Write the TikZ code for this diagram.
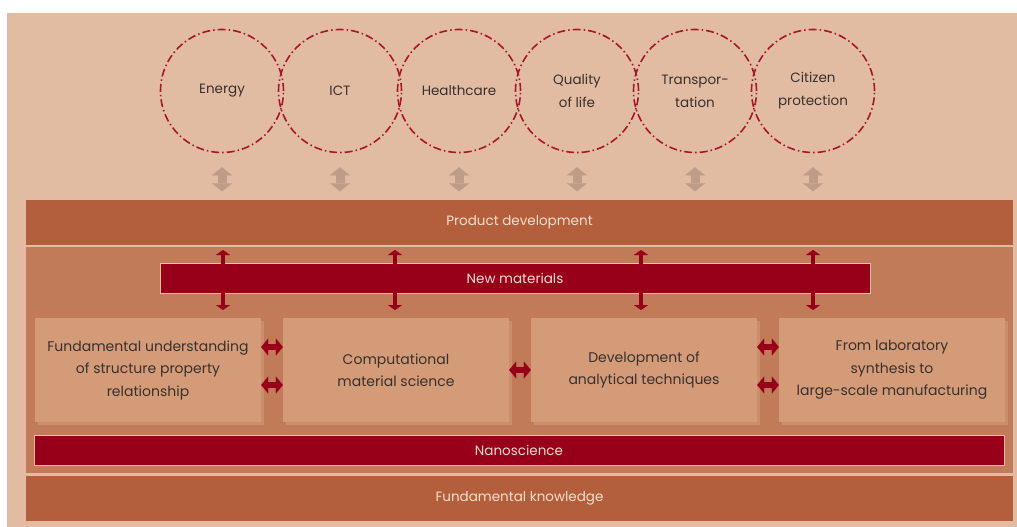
\documentclass[tikz,border=0pt]{standalone}
\usepackage{fontspec}
\setmainfont{Poppins}
\usepackage{tikz}
\usetikzlibrary{arrows.meta,shadows}
\definecolor{backbeige}{HTML}{E2BCA2}
\definecolor{bandbrown}{HTML}{B35F3C}
\definecolor{midbrown}{HTML}{C27B58}
\definecolor{boxtan}{HTML}{D49B79}
\definecolor{boxshade}{HTML}{CA8E6C}
\definecolor{wine}{HTML}{98001A}
\definecolor{dashred}{HTML}{A8162C}
\definecolor{greyarrow}{HTML}{BF9C88}
\definecolor{inktext}{HTML}{3A302B}
\definecolor{palelight}{HTML}{F5DFCF}
\definecolor{edgelight}{HTML}{E6C0A5}
\tikzset{
  goal/.style={circle,draw=dashred,line width=1.6pt,
    dash pattern=on 8pt off 3pt on 1.5pt off 3pt,
    minimum size=123pt,inner sep=0pt,align=center,text=inktext,
    font=\fontsize{13.5}{23}\selectfont},
  band/.style={rectangle,fill=bandbrown,minimum width=987pt,minimum height=45pt,
    inner sep=0pt,text=palelight,font=\fontsize{13.5}{23}\selectfont},
  midfield/.style={rectangle,fill=midbrown,minimum width=987pt,minimum height=226pt,inner sep=0pt},
  bar/.style={rectangle,fill=wine,draw=edgelight,line width=1pt,minimum height=30pt,
    inner sep=0pt,text=palelight,font=\fontsize{13.5}{23}\selectfont},
  field/.style={rectangle,fill=boxtan,minimum width=226pt,minimum height=104pt,inner sep=0pt,
    align=center,text=inktext,font=\fontsize{14}{22.5}\selectfont,
    drop shadow={shadow xshift=2.5pt,shadow yshift=-2.5pt,fill=boxshade,opacity=1}},
  updown/.style={wine,line width=4.5pt,
    {Triangle[width=14pt,length=5pt,line width=0.01pt]}-{Triangle[width=14pt,length=5pt,line width=0.01pt]}},
  link/.style={wine,line width=6pt,
    {Triangle[width=17pt,length=7pt,line width=0.01pt]}-{Triangle[width=17pt,length=7pt,line width=0.01pt]}},
  lift/.style={greyarrow,line width=9pt,
    {Triangle[width=20pt,length=8pt,line width=0.01pt]}-{Triangle[width=20pt,length=8pt,line width=0.01pt]}}
}
\begin{document}
\begin{tikzpicture}[x=1pt,y=-1pt]
\useasboundingbox (0,0) rectangle (1017,527);
\fill[backbeige] (7,13) rectangle (1017,527);
% application areas
\draw (222,91) node[goal](energy) {Energy};
\draw (340,91) node[goal](ict) {ICT};
\draw (459,91) node[goal](health) {Healthcare};
\draw (577,91) node[goal](quality) {Quality\\of life};
\draw (695,91) node[goal](transport) {Transpor-\\tation};
\draw (813,91) node[goal](citizen) {Citizen\\protection};
% layers
\draw (519.5,222.5) node[band](product) {Product development};
\draw (519.5,360) node[midfield](middle) {};
\draw (519.5,498.5) node[band](knowledge) {Fundamental knowledge};
\draw (515,278) node[bar,minimum width=710pt](materials) {New materials};
\draw (519,450) node[bar,minimum width=970pt](nano) {Nanoscience};
% research fields
\draw (148,370) node[field](fundamental) {Fundamental understanding\\of structure property\\relationship};
\draw (396,370) node[field](computational) {Computational\\material science};
\draw (644,370) node[field](analytical) {Development of\\analytical techniques};
\draw (892,370) node[field](laboratory) {From laboratory\\synthesis to\\large-scale manufacturing};
% links to the applications
\draw[lift] ([yshift=-14pt]energy.south) -- ([yshift=-38pt]energy.south);
\draw[lift] ([yshift=-14pt]ict.south) -- ([yshift=-38pt]ict.south);
\draw[lift] ([yshift=-14pt]health.south) -- ([yshift=-38pt]health.south);
\draw[lift] ([yshift=-14pt]quality.south) -- ([yshift=-38pt]quality.south);
\draw[lift] ([yshift=-14pt]transport.south) -- ([yshift=-38pt]transport.south);
\draw[lift] ([yshift=-14pt]citizen.south) -- ([yshift=-38pt]citizen.south);
% through new materials
\coordinate (up1) at (223,250);
\coordinate (down1) at (223,310);
\coordinate (up2) at (395,250);
\coordinate (down2) at (395,310);
\coordinate (up3) at (641,250);
\coordinate (down3) at (641,310);
\coordinate (up4) at (813,250);
\coordinate (down4) at (813,310);
\draw[updown] (up1) -- (down1);
\draw[updown] (up2) -- (down2);
\draw[updown] (up3) -- (down3);
\draw[updown] (up4) -- (down4);
% between the fields
\draw[link] ([yshift=23pt]fundamental.east) -- ([yshift=23pt]computational.west);
\draw[link] ([yshift=-15pt]fundamental.east) -- ([yshift=-15pt]computational.west);
\draw[link] (computational.east) -- (analytical.west);
\draw[link] ([yshift=23pt]analytical.east) -- ([yshift=23pt]laboratory.west);
\draw[link] ([yshift=-15pt]analytical.east) -- ([yshift=-15pt]laboratory.west);
\end{tikzpicture}
\end{document}
